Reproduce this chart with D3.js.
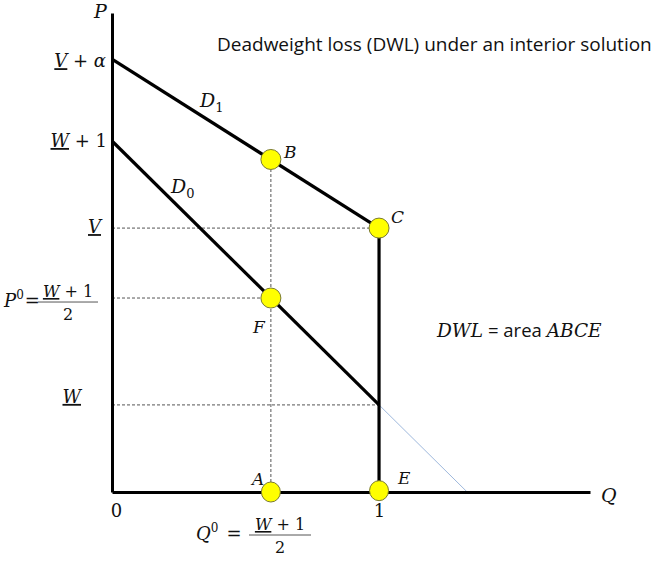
<!DOCTYPE html>
<html>
<head>
<meta charset="utf-8">
<script src="https://cdn.jsdelivr.net/npm/d3@7"></script>
<style>
  body { margin: 0; background: #fff; }
  .math { font-family: "DejaVu Serif", serif; fill: #111; }
  .it { font-style: italic; }
  .ul { text-decoration: underline; }
  .title { font-family: "Open Sans", sans-serif; font-size: 19px; fill: #111; }
  .axis path { stroke: #000; stroke-width: 3; }
  .axis text { font-family: "DejaVu Serif", serif; font-size: 18px; fill: #111; }
</style>
</head>
<body>
<div id="chart"></div>
<script>
// values (price units / quantity units)
const Q_TICKS = [0, 1];
const P_LEVELS = ["W", "P0", "V", "W1", "Va"];
const P_VALUES = [0.33, 0.735, 1.0, 1.33, 1.64];
const Q0 = 0.595;
const D0_LINE = [[0, 1.33], [1, 0.33]];
const D0_EXT = [[1, 0.33], [1.33, 0]];
const D1_LINE = [[0, 1.64], [1, 1.0]];
const SUPPLY_LINE = [[1, 1.0], [1, 0]];
const POINT_NAMES = ["A", "B", "C", "E", "F"];
const POINT_Q = [0.595, 0.595, 1, 1, 0.595];
const POINT_P = [0, 1.26, 1.0, 0.005, 0.735];

const W = 654, H = 565;
const pv = (k) => P_VALUES[P_LEVELS.indexOf(k)];

var svg = d3.select("#chart").append("svg")
            .attr("width", W)
            .attr("height", H);

var x = d3.scaleLinear().domain([0, 1.79]).range([112, 590]);
var y = d3.scaleLinear().domain([0, 1.815]).range([492, 13]);
var line = d3.line().x((d) => x(d[0])).y((d) => y(d[1]));

// dashed guides
var guides = [
    [[0, pv("V")], [1, pv("V")]],
    [[0, pv("P0")], [Q0, pv("P0")]],
    [[0, pv("W")], [1, pv("W")]],
    [[Q0, 0], [Q0, POINT_P[1]]],
];
svg.append("g").selectAll("path")
   .data(guides)
   .enter()
   .append("path")
   .attr("d", line)
   .attr("fill", "none")
   .attr("stroke", "#555")
   .attr("stroke-width", 1)
   .attr("stroke-dasharray", "3,2");

// thin extension of D0 below W
svg.append("path")
   .attr("d", line(D0_EXT))
   .attr("fill", "none")
   .attr("stroke", "#9fb9dd")
   .attr("stroke-width", 1);

// axes
svg.append("g")
   .classed("axis", true)
   .attr("transform", "translate(0," + y(0) + ")")
   .call(d3.axisBottom(x).tickValues(Q_TICKS).tickSize(0).tickSizeOuter(0).tickPadding(12).tickFormat(d3.format("d")))
   .call((g) => g.selectAll(".tick text").attr("dx", (d) => (d === 0 ? 4 : 0)));
svg.append("g")
   .classed("axis", true)
   .attr("transform", "translate(" + x(0) + ",0)")
   .call(d3.axisLeft(y).tickValues([]).tickSizeOuter(0));

// demand curves and vertical segment
[D0_LINE, D1_LINE, SUPPLY_LINE].forEach(function(seg){
    svg.append("path")
       .attr("d", line(seg))
       .attr("fill", "none")
       .attr("stroke", "#000")
       .attr("stroke-width", 3.2);
});

// points
svg.append("g").selectAll("ellipse")
   .data(POINT_NAMES)
   .enter()
   .append("ellipse")
   .attr("cx", (d, i) => x(POINT_Q[i]))
   .attr("cy", (d, i) => y(POINT_P[i]))
   .attr("rx", (d, i) => (POINT_P[i] < 0.01 ? 9.5 : 10))
   .attr("ry", 10)
   .attr("fill", "#ffff00")
   .attr("stroke", "#7a7a2e")
   .attr("stroke-width", 1);

// helper for math text built from pieces
var mathText = function(px, py, parts, size, anchor){
    var t = svg.append("text").classed("math", true)
               .attr("x", px).attr("y", py)
               .style("font-size", size + "px")
               .attr("text-anchor", anchor || "start");
    parts.forEach(function(p){
        var s = t.append("tspan").text(p.t);
        if (p.c) s.attr("class", p.c);
        if (p.dy) s.attr("dy", p.dy);
        if (p.dx) s.attr("dx", p.dx);
        if (p.fs) s.style("font-size", p.fs + "px");
        if (p.f) s.style("font-family", p.f);
    });
    return t;
};

var labelOff = {A: [-19, -7], B: [13, -1], C: [12, -5], E: [19, -7], F: [-18, 35]};
POINT_NAMES.forEach(function(d, i){
    mathText(x(POINT_Q[i]) + labelOff[d][0], y(POINT_P[i]) + labelOff[d][1], [{t: d, c: "it"}], 17);
});

// axis names
mathText(94, 18, [{t: "P", c: "it"}], 19);
mathText(601, y(0) + 10, [{t: "Q", c: "it"}], 19);

// y labels
mathText(106, y(pv("Va")) + 8, [{t: "V", c: "it ul"}, {t: " + "}, {t: "α", c: "it"}], 18, "end");
mathText(107, y(pv("W1")) + 6, [{t: "W", c: "it ul"}, {t: " + 1"}], 18, "end");
mathText(101, y(pv("V")) + 5, [{t: "V", c: "it ul"}], 18, "end");
mathText(81, y(pv("W")) - 2, [{t: "W", c: "it ul"}], 18, "end");

// fraction labels P0 = (W+1)/2 and Q0 = (W+1)/2
var fracLabel = function(cx, half, barY, lead, leadX, leadSize){
    mathText(leadX, barY + 5, lead, leadSize);
    mathText(cx, barY - 5, [{t: "W", c: "it ul"}, {t: " + 1"}], 16, "middle");
    mathText(cx, barY + 18, [{t: "2"}], 16, "middle");
    svg.append("line")
       .attr("x1", cx - half).attr("x2", cx + half)
       .attr("y1", barY).attr("y2", barY)
       .attr("stroke", "#555").attr("stroke-width", 1);
};
fracLabel(68, 30, y(pv("P0")) + 4,
          [{t: "P", c: "it"}, {t: "0", dy: -8, fs: 12}, {t: "=", dy: 8, dx: 1}], 4, 18);
fracLabel(280, 31, 535,
          [{t: "Q", c: "it"}, {t: "0", dy: -8, fs: 12}, {t: "=", dy: 8, dx: 8}], 196, 18);

// curve names
mathText(200, 107, [{t: "D", c: "it"}, {t: "1", dy: 5, fs: 13}], 19);
mathText(171, 193, [{t: "D", c: "it"}, {t: "0", dy: 5, fs: 13}], 19);

// title and DWL note
svg.append("text").classed("title", true)
   .attr("x", 217).attr("y", 51)
   .text("Deadweight loss (DWL) under an interior solution");
mathText(437, 337, [{t: "DWL", c: "it"},
                    {t: " = area ", f: "'Open Sans', sans-serif"},
                    {t: "ABCE", c: "it"}], 18.5);
</script>
</body>
</html>
